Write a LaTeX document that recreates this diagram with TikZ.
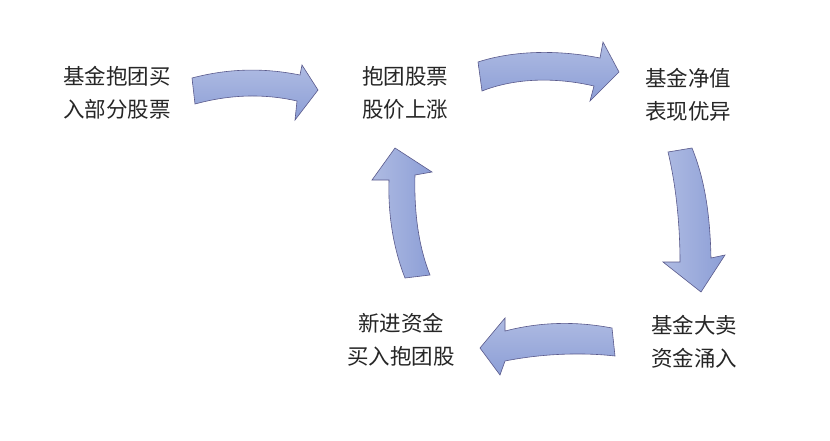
\documentclass[tikz,border=0pt]{standalone}
\usepackage{fontspec}
\newfontfamily\cjk{Noto Sans CJK SC}
\begin{document}
\begin{tikzpicture}[x=1pt,y=-1pt,
  arr/.style={draw=black!35!blue!30!gray,line width=0.6pt,top color=ablue!70!white,bottom color=ablue,line join=miter},
  varr/.style={draw=black!35!blue!30!gray,line width=0.6pt,left color=ablue!70!white,right color=ablue,line join=miter},
  lbl/.style={font=\cjk\fontsize{21.5}{33}\selectfont,align=center,text=black!85}]
\definecolor{ablue}{HTML}{8C9ED6}
\useasboundingbox[fill=white] (0,0) rectangle (830,440);
% arrow 1
\path[arr] (192,78) .. controls (230,68) and (265,68) .. (300,75) -- (302,65) -- (318,90) -- (295,120) -- (297,101)
  .. controls (262,93) and (228,95) .. (195,104) -- cycle;
% arrow 2
\path[arr] (478,62) .. controls (515,50) and (560,50) .. (600,58) -- (603,42) -- (619,72) -- (590,101) -- (594,86)
  .. controls (555,77) and (515,78) .. (482,91) -- cycle;
% arrow 3
\path[varr] (668,152) .. controls (676,185) and (680,225) .. (680,262) -- (663,262) -- (701,292) -- (725,255) -- (711,258)
  .. controls (710,215) and (705,180) .. (692,148) -- cycle;
% arrow 4
\path[arr] (612,328) .. controls (575,321) and (540,322) .. (505,331) -- (505,318) -- (480,348) -- (500,375) -- (505,361)
  .. controls (540,354) and (580,352) .. (615,356) -- cycle;
% arrow 5
\path[varr] (405,278) .. controls (392,245) and (388,210) .. (389,180) -- (372,180) -- (395,148) -- (432,172) -- (415,175)
  .. controls (414,210) and (418,245) .. (430,275) -- cycle;
\node[lbl] (a) at (117,93) {基金抱团买\\入部分股票};
\node[lbl] (b) at (405,93) {抱团股票\\股价上涨};
\node[lbl] (c) at (688,95) {基金净值\\表现优异};
\node[lbl] (d) at (694,342) {基金大卖\\资金涌入};
\node[lbl] (e) at (401,340) {新进资金\\买入抱团股};
\end{tikzpicture}
\end{document}
